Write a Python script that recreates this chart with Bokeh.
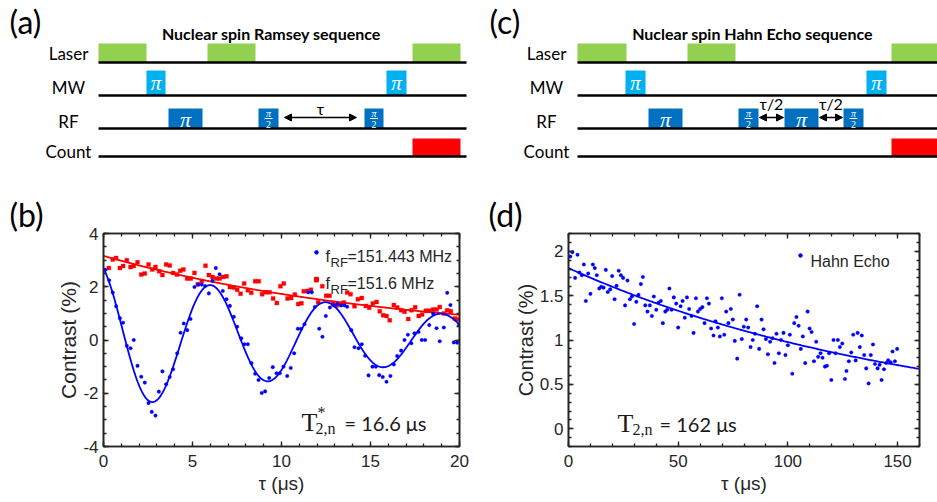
import numpy as np
from bokeh.plotting import figure
from bokeh.layouts import column, row
from bokeh.models import Range1d, LinearAxis, Label, Arrow, NormalHead, FixedTicker
from bokeh.embed import file_html
from bokeh.resources import INLINE
from bokeh.core.properties import value

# ---------------- data: Ramsey (panel b) ----------------
ramsey_a_t = [0.11, 0.32, 0.52, 0.71, 0.92, 1.10, 1.31, 1.52, 1.70, 1.91, 2.12, 2.32, 2.53, 2.71, 2.92,
              3.11, 3.31, 3.52, 3.72, 3.91, 4.14, 4.33, 4.51, 4.70, 4.89, 5.11, 5.32, 5.52, 5.71, 5.92,
              6.12, 6.31, 6.52, 6.70, 6.91, 7.10, 7.32, 7.51, 7.74, 7.92, 8.11, 8.31, 8.52, 8.71, 8.89,
              9.08, 9.31, 9.51, 9.72, 9.90, 10.11, 10.32, 10.52, 10.71, 10.92, 11.10, 11.29, 11.50, 11.70, 11.87,
              12.12, 12.30, 12.49, 12.72, 12.94, 13.13, 13.35, 13.54, 13.69, 13.92, 14.10, 14.33, 14.51, 14.70, 14.89,
              15.11, 15.30, 15.49, 15.69, 15.90, 16.12, 16.31, 16.50, 16.72, 16.91, 17.10, 17.29, 17.47, 17.70, 17.88,
              18.07, 18.30, 18.52, 18.71, 18.89, 19.12, 19.31, 19.49, 19.68, 19.87, 19.98]
ramsey_a_c = [2.64, 2.24, 1.78, 1.27, 0.82, 0.65, -0.22, -0.31, 0.00, -0.97, -1.38, -1.60, -2.37, -2.70, -2.84,
              -1.94, -1.18, -1.66, -1.39, -1.10, -0.50, 0.27, 0.62, 0.37, 0.79, 1.99, 2.08, 2.08, 2.03, 1.75,
              2.22, 2.70, 2.47, 1.84, 1.53, 1.28, 0.87, 0.50, 0.06, -0.16, -0.16, -0.87, -1.27, -1.50, -1.99,
              -1.93, -1.43, -1.02, -1.25, -1.25, -1.00, -1.35, -1.05, -0.50, 0.42, 0.42, 0.59, 1.79, 1.79, 1.24,
              0.42, 0.12, 0.90, 1.22, 1.30, 1.35, 1.30, 1.30, 1.25, 0.37, -0.27, -0.31, -0.16, -0.59, -1.33,
              -1.00, -1.00, -1.32, -1.39, -1.57, -1.35, -0.92, -0.60, -0.40, 0.00, 0.20, -0.12, 0.25, 0.30, 0.00,
              0.00, 0.56, 0.99, 0.44, -0.05, 0.47, 1.77, 1.31, -0.09, -0.10, 0.55]
ramsey_b_t = [0.30, 0.52, 0.71, 0.92, 1.10, 1.31, 1.52, 1.70, 1.91, 2.12, 2.32, 2.53, 2.74, 2.92, 3.13,
              3.31, 3.52, 3.72, 3.91, 4.12, 4.31, 4.49, 4.70, 4.90, 5.11, 5.30, 5.52, 5.73, 5.92, 6.12,
              6.33, 6.52, 6.72, 6.91, 7.10, 7.32, 7.51, 7.70, 7.90, 8.11, 8.30, 8.52, 8.72, 8.91, 9.12,
              9.33, 9.53, 9.74, 9.94, 10.13, 10.34, 10.54, 10.75, 10.94, 11.12, 11.25, 11.46, 11.65, 11.95, 12.06,
              12.29, 12.51, 12.70, 12.90, 13.09, 13.31, 13.50, 13.69, 13.88, 14.10, 14.29, 14.51, 14.74, 14.93, 15.13,
              15.34, 15.52, 15.71, 15.90, 16.08, 16.31, 16.50, 16.72, 16.91, 17.12, 17.30, 17.51, 17.71, 17.90, 18.11,
              18.30, 18.52, 18.71, 18.89, 19.12, 19.31, 19.51, 19.74, 19.90]
ramsey_b_c = [2.70, 3.02, 3.08, 2.70, 2.78, 3.00, 2.74, 2.78, 2.92, 2.46, 2.50, 2.84, 2.65, 2.74, 2.58,
              2.44, 2.84, 2.80, 2.52, 2.46, 2.60, 2.65, 2.31, 2.31, 2.52, 2.09, 2.22, 2.79, 2.44, 2.37,
              2.31, 2.31, 2.37, 2.39, 1.99, 1.97, 1.89, 1.74, 2.12, 1.87, 1.77, 2.21, 2.21, 1.72, 1.79,
              1.79, 1.56, 1.39, 2.02, 2.12, 1.56, 1.58, 1.71, 1.35, 1.38, 1.83, 1.84, 1.89, 2.24, 1.42,
              2.02, 1.66, 1.66, 1.35, 1.30, 1.33, 1.41, 1.78, 1.72, 1.27, 1.53, 1.58, 1.28, 1.21, 1.37,
              1.43, 1.08, 0.93, 0.90, 0.74, 1.31, 1.22, 1.12, 1.06, 0.79, 1.12, 1.23, 0.90, 0.96, 1.10,
              1.10, 1.15, 1.15, 1.24, 1.00, 1.12, 1.08, 0.81, 0.77]
# fit parameters (damped cosine / exponential decay)
ramsey_a_offset = 0.08
ramsey_a_amp = 2.85
ramsey_a_T2 = 16.6
ramsey_a_period = 6.48
ramsey_a_phase = 0.417
ramsey_b_amp = 3.16
ramsey_b_T = 16.6

# ---------------- data: Hahn echo (panel d) ----------------
hahn_t = [0.8, 1.8, 3.0, 4.1, 5.0, 6.1, 7.0, 7.9, 9.0, 10.0,
          11.1, 12.0, 12.9, 14.0, 14.9, 16.0, 17.0, 17.9, 19.0, 19.9,
          21.0, 21.9, 22.9, 23.9, 24.9, 25.8, 26.9, 28.0, 28.9, 29.9,
          30.9, 31.9, 33.0, 33.9, 35.0, 36.0, 37.1, 38.0, 38.9, 40.0,
          41.0, 42.1, 43.0, 44.1, 45.0, 46.0, 47.0, 48.0, 49.1, 50.0,
          51.1, 52.0, 53.0, 54.0, 55.0, 56.1, 57.0, 58.1, 59.0, 60.0,
          61.0, 62.0, 63.1, 64.0, 65.0, 66.1, 67.0, 68.1, 69.0, 69.9,
          71.0, 71.9, 72.9, 74.0, 74.9, 75.8, 76.9, 78.0, 79.0, 79.9,
          81.0, 81.9, 83.0, 84.0, 85.0, 86.0, 86.9, 88.0, 88.9, 90.0,
          90.9, 91.9, 93.0, 93.9, 94.8, 95.9, 96.9, 98.0, 98.9, 100.0,
          100.9, 102.0, 102.9, 103.9, 104.9, 105.9, 106.8, 107.9, 109.0, 109.9,
          110.8, 111.9, 112.9, 113.8, 114.9, 115.8, 116.9, 117.8, 118.8, 119.8,
          120.8, 121.7, 122.8, 123.7, 124.8, 126.0, 126.7, 127.8, 128.9, 129.8,
          130.9, 131.8, 132.8, 133.7, 134.8, 135.7, 136.8, 137.8, 138.8, 139.7,
          140.9, 141.8, 142.7, 143.8, 144.8, 145.7, 146.8, 147.7, 148.8, 149.8]
hahn_c = [1.94, 1.99, 1.70, 1.96, 1.76, 1.73, 1.85, 1.44, 1.75, 1.52,
          1.85, 1.81, 1.73, 1.58, 1.60, 1.59, 1.79, 1.54, 1.57, 1.72,
          1.46, 1.61, 1.78, 1.73, 1.70, 1.39, 1.67, 1.46, 1.49, 1.18,
          1.43, 1.51, 1.63, 1.71, 1.39, 1.32, 1.39, 1.27, 1.49, 1.34,
          1.42, 1.44, 1.19, 1.32, 1.34, 1.58, 1.34, 1.48, 1.41, 1.14,
          1.38, 1.44, 1.25, 1.48, 1.35, 1.27, 1.08, 1.47, 1.32, 1.35,
          1.37, 1.19, 1.47, 1.41, 1.13, 1.05, 1.21, 1.14, 1.04, 1.47,
          1.06, 1.32, 1.19, 1.35, 1.23, 0.99, 0.79, 1.51, 1.01, 1.15,
          1.23, 1.14, 0.92, 1.00, 1.07, 1.38, 0.90, 1.23, 1.12, 1.01,
          0.84, 0.98, 1.02, 0.74, 1.07, 0.85, 1.00, 1.08, 0.83, 0.94,
          1.06, 0.62, 1.19, 1.26, 1.16, 0.90, 1.04, 0.74, 1.32, 1.13,
          1.09, 0.76, 0.98, 0.81, 0.85, 0.80, 0.70, 0.71, 0.85, 0.55,
          1.00, 0.85, 1.00, 0.92, 0.96, 0.56, 0.65, 0.76, 0.86, 1.06,
          0.77, 1.08, 0.92, 1.05, 0.83, 0.68, 0.51, 0.83, 0.95, 0.73,
          0.68, 0.72, 0.55, 0.67, 0.74, 0.77, 0.75, 0.87, 0.76, 0.90]
hahn_amp = 1.81
hahn_T2 = 162.0

# ticks
b_xticks = [0, 5, 10, 15, 20]
b_yticks = [-4, -2, 0, 2, 4]
b_ytick_labels = ["-4", "-2", "0", "2", "4"]
d_xticks = [0, 50, 100, 150]
d_yticks = [0, 0.5, 1, 1.5, 2]
d_ytick_labels = ["0", "0.5", "1", "1.5", "2"]

# ---------------- pulse sequences (schematic time units) ----------------
channels = ["Laser", "MW", "RF", "Count"]
ramsey_span = [98, 466]
ramsey_laser = [[98, 146], [207, 255], [412, 460]]
ramsey_mw = [[146, 165], [386, 406]]
ramsey_rf_pi = [[168, 202]]
ramsey_rf_half = [[258, 278], [364, 383]]
ramsey_count = [[412, 460]]
ramsey_waits = [[283, 357]]
ramsey_wait_labels = ["τ"]

echo_span = [577, 937]
echo_laser = [[577, 626], [687, 735], [891, 937]]
echo_mw = [[625, 645], [866, 886]]
echo_rf_pi = [[648, 682], [784, 818]]
echo_rf_half = [[738, 758], [843, 863]]
echo_count = [[891, 937]]
echo_waits = [[758, 784], [818, 843]]
echo_wait_labels = ["τ/2", "τ/2"]

SANS = "Liberation Sans"
UI = "Lato"
SERIF = "Liberation Serif"
AX = "#262626"

ROW_Y = [62, 95, 128, 156]
TOPS = {"Laser": 43, "MW": 70, "RF": 108, "Count": 138}
TOP_H = 190
BOT_H = 312


def diagram(xr, title, title_x, label_x, span, laser, mw, rf_pi, rf_half, count, waits, wait_labels,
            wait_label_y, panel, panel_x):
    p = figure(width=xr[1] - xr[0], height=TOP_H, x_range=Range1d(*xr), y_range=Range1d(TOP_H, 0),
               output_backend="svg", toolbar_location=None, min_border=0,
               x_axis_location=None, y_axis_location=None, outline_line_color=None)
    p.grid.visible = False

    def blocks(lst, top, bottom, color):
        p.quad(left=[a for a, b in lst], right=[b for a, b in lst], top=[top] * len(lst),
               bottom=[bottom] * len(lst), fill_color=color, line_color=None)
    blocks(laser, TOPS["Laser"], ROW_Y[0], "#92D050")
    blocks(mw, TOPS["MW"], ROW_Y[1], "#00B0F0")
    blocks(rf_pi, TOPS["RF"], ROW_Y[2], "#0070C0")
    blocks(rf_half, TOPS["RF"], ROW_Y[2], "#0070C0")
    blocks(count, TOPS["Count"], ROW_Y[3], "#FF0000")
    # channel lines
    p.segment(x0=[span[0]] * 4, x1=[span[1]] * 4, y0=ROW_Y, y1=ROW_Y, line_width=2.6, line_color="black")
    # pi labels
    mw_c = [(a + b) / 2 for a, b in mw]
    p.text(x=mw_c, y=[(TOPS["MW"] + ROW_Y[1]) / 2] * len(mw_c), text=["π"] * len(mw_c),
           text_font=value(SERIF), text_font_style="italic", text_font_size="21px", text_color="white",
           text_align="center", text_baseline="middle")
    pi_c = [(a + b) / 2 for a, b in rf_pi]
    p.text(x=pi_c, y=[(TOPS["RF"] + ROW_Y[2]) / 2 + 1] * len(pi_c), text=["π"] * len(pi_c),
           text_font=value(SERIF), text_font_style="italic", text_font_size="22px", text_color="white",
           text_align="center", text_baseline="middle")
    h_c = [(a + b) / 2 for a, b in rf_half]
    p.text(x=h_c, y=[TOPS["RF"] + 5] * len(h_c), text=["π"] * len(h_c),
           text_font=value(SERIF), text_font_style="italic", text_font_size="10px", text_color="white",
           text_align="center", text_baseline="middle")
    p.segment(x0=[c - 4 for c in h_c], x1=[c + 4 for c in h_c], y0=[TOPS["RF"] + 10] * len(h_c),
              y1=[TOPS["RF"] + 10] * len(h_c), line_color="white", line_width=1)
    p.text(x=h_c, y=[TOPS["RF"] + 15.5] * len(h_c), text=["2"] * len(h_c),
           text_font=value(SERIF), text_font_size="10px", text_color="white",
           text_align="center", text_baseline="middle")
    # waiting arrows
    for (a, b) in waits:
        p.add_layout(Arrow(x_start=a + 1, x_end=b - 1, y_start=117, y_end=117, line_width=1.5,
                           start=NormalHead(size=7, fill_color="black", line_color="black"),
                           end=NormalHead(size=7, fill_color="black", line_color="black")))
    p.text(x=[(a + b) / 2 for a, b in waits], y=[wait_label_y] * len(waits), text=wait_labels,
           text_font=value(UI), text_font_size="16px", text_color="black",
           text_align="center", text_baseline="middle")
    # channel names
    p.text(x=[label_x] * 4, y=[53, 87, 121, 151], text=channels, text_font=value(UI),
           text_font_size="17px", text_color="black", text_align="center", text_baseline="middle")
    # title
    p.text(x=[title_x], y=[33], text=[title], text_font=value(UI), text_font_style="bold",
           text_font_size="16px", text_color="black", text_align="center", text_baseline="alphabetic")
    p.text(x=[panel_x], y=[21], text=[panel], text_font=value(UI), text_font_size="32px",
           text_color="black", text_align="left", text_baseline="middle")
    return p


pa = diagram((0, 470), "Nuclear spin Ramsey sequence", 271, 68, ramsey_span, ramsey_laser, ramsey_mw,
             ramsey_rf_pi, ramsey_rf_half, ramsey_count, ramsey_waits, ramsey_wait_labels, 108, "(a)", 9)
pc = diagram((470, 937), "Nuclear spin Hahn Echo sequence", 752, 546, echo_span, echo_laser, echo_mw,
             echo_rf_pi, echo_rf_half, echo_count, echo_waits, echo_wait_labels, 103, "(c)", 489)


def data_panel(total_w, xr, yr, left, fw, top, fh, xticks, xminor, yticks, yminor, ylabels, ylab_size,
               panel, panel_x):
    bottom = BOT_H - top - fh
    right = total_w - left - fw
    p = figure(width=total_w, height=BOT_H, x_range=Range1d(*xr), y_range=Range1d(*yr),
               output_backend="svg", toolbar_location=None, title=panel,
               min_border_left=left, min_border_right=right, min_border_top=top, min_border_bottom=bottom)
    p.title.text_font = UI
    p.title.text_font_size = "32px"
    p.title.text_font_style = "normal"
    p.title.text_color = "black"
    p.title.align = "left"
    p.title.offset = panel_x - left
    p.title.standoff = 0
    p.grid.visible = False
    p.outline_line_color = AX
    p.outline_line_width = 1.6
    xa = p.below[0]
    ya = p.left[0]
    xa.ticker = FixedTicker(ticks=xticks, minor_ticks=xminor)
    ya.ticker = FixedTicker(ticks=yticks, minor_ticks=yminor)
    ya.major_label_overrides = {t: s for t, s in zip(yticks, ylabels)}
    ra = LinearAxis(ticker=FixedTicker(ticks=yticks, minor_ticks=yminor),
                    major_label_overrides={t: "" for t in yticks})
    ta = LinearAxis(ticker=FixedTicker(ticks=xticks, minor_ticks=xminor),
                    major_label_overrides={t: "" for t in xticks})
    p.add_layout(ra, "right")
    p.add_layout(ta, "above")
    for ax in (xa, ya, ra, ta):
        ax.axis_line_color = AX
        ax.axis_line_width = 1.6
        ax.major_tick_in = 5
        ax.major_tick_out = 0
        ax.minor_tick_in = 3
        ax.minor_tick_out = 0
        ax.major_tick_line_color = AX
        ax.minor_tick_line_color = AX
        ax.major_tick_line_width = 1.3
        ax.minor_tick_line_width = 1.3
        ax.major_label_text_font = SANS
        ax.major_label_text_font_size = "17px"
        ax.major_label_text_color = AX
        ax.axis_label_text_font = SANS
        ax.axis_label_text_font_style = "normal"
        ax.axis_label_text_color = AX
    for ax in (ra, ta):
        ax.major_label_standoff = 0
        ax.major_label_text_font_size = "2px"
    xa.axis_label = "τ (μs)"
    xa.axis_label_text_font_size = "19px"
    xa.major_label_standoff = 8
    xa.axis_label_standoff = 3
    ya.axis_label = "Contrast (%)"
    ya.axis_label_text_font_size = ylab_size
    ya.major_label_standoff = 5
    ya.axis_label_standoff = 0
    return p


def mapper(x0, w, xr, y0, h, yr):
    def fx(px):
        return xr[0] + (px - x0) / w * (xr[1] - xr[0])

    def fy(py):
        return yr[1] - (py - y0) / h * (yr[1] - yr[0])
    return fx, fy


# ---------------- panel (b) ----------------
b_xr, b_yr = (0, 20), (-4, 4)
pb = data_panel(470, b_xr, b_yr, 103, 356, 43, 214, b_xticks, list(np.arange(0, 20.01, 1.0)), b_yticks,
                list(np.arange(-4, 4.01, 0.5)), b_ytick_labels, "21px", "(b)", 9)
bx, by = mapper(103, 356, b_xr, 233, 214, b_yr)

tt = np.linspace(0, 20, 500)
fit_a = ramsey_a_offset + ramsey_a_amp * np.exp(-tt / ramsey_a_T2) * np.cos(2 * np.pi * tt / ramsey_a_period + ramsey_a_phase)
fit_b = ramsey_b_amp * np.exp(-tt / ramsey_b_T)
pb.scatter(ramsey_b_t, ramsey_b_c, marker="square", size=4, fill_color="#FF0000", line_color="#FF0000", line_width=0.3)
pb.line(tt, fit_b, line_color="#FF0000", line_width=1.8)
pb.scatter(ramsey_a_t, ramsey_a_c, marker="circle", size=3.6, fill_color="#0000FF", line_color="#0000FF", line_width=0.3)
pb.line(tt, fit_a, line_color="#0000FF", line_width=1.8)

# legend (b)
pb.scatter([bx(316)], [by(252)], marker="circle", size=3.6, color="#0000FF")
pb.scatter([bx(316)], [by(279)], marker="square", size=4, color="#FF0000")
for yy, txt in ((256, "=151.443 MHz"), (283, "=151.6 MHz")):
    pb.add_layout(Label(x=bx(325), y=by(yy), text="f", text_font=SANS, text_font_size="16px",
                        text_color=AX, text_baseline="alphabetic"))
    pb.add_layout(Label(x=bx(330), y=by(yy + 6), text="RF", text_font=SANS, text_font_size="13px",
                        text_color=AX, text_baseline="alphabetic"))
    pb.add_layout(Label(x=bx(347), y=by(yy), text=txt, text_font=SANS, text_font_size="16px",
                        text_color=AX, text_baseline="alphabetic"))
# T2* annotation
pb.add_layout(Label(x=bx(301), y=by(423), text="T", text_font=SERIF, text_font_size="26px",
                    text_color="#1a1a1a", text_baseline="alphabetic"))
pb.add_layout(Label(x=bx(317), y=by(413), text="*", text_font=SERIF, text_font_size="16px",
                    text_color="#1a1a1a", text_baseline="alphabetic"))
pb.add_layout(Label(x=bx(315), y=by(429), text="2,n", text_font=SERIF, text_font_size="16px",
                    text_color="#1a1a1a", text_baseline="alphabetic"))
pb.add_layout(Label(x=bx(344), y=by(423), text="= 16.6 μs", text_font=UI, text_font_size="20px",
                    text_color="#1a1a1a", text_baseline="alphabetic"))

# ---------------- panel (d) ----------------
d_xr, d_yr = (0, 160), (-0.2, 2.2)
pd_ = data_panel(467, d_xr, d_yr, 98, 351, 43, 213, d_xticks, list(np.arange(0, 160.01, 10.0)), d_yticks,
                 list(np.arange(-0.2, 2.21, 0.1)), d_ytick_labels, "20px", "(d)", 18)
dx, dy = mapper(568, 351, d_xr, 233, 213, d_yr)
th = np.linspace(0, 160, 300)
fit_h = hahn_amp * np.exp(-th / hahn_T2)
pd_.scatter(hahn_t, hahn_c, marker="circle", size=3.6, fill_color="#0000FF", line_color="#0000FF", line_width=0.3)
pd_.line(th, fit_h, line_color="#0000FF", line_width=1.8)
pd_.scatter([dx(800)], [dy(255)], marker="circle", size=3.6, color="#0000FF")
pd_.add_layout(Label(x=dx(810), y=dy(261), text="Hahn Echo", text_font=SANS, text_font_size="16px",
                     text_color=AX, text_baseline="alphabetic"))
pd_.add_layout(Label(x=dx(617), y=dy(423), text="T", text_font=SERIF, text_font_size="26px",
                     text_color="#1a1a1a", text_baseline="alphabetic"))
pd_.add_layout(Label(x=dx(632), y=dy(429), text="2,n", text_font=SERIF, text_font_size="16px",
                     text_color="#1a1a1a", text_baseline="alphabetic"))
pd_.add_layout(Label(x=dx(659), y=dy(423), text="= 162 μs", text_font=UI, text_font_size="20px",
                     text_color="#1a1a1a", text_baseline="alphabetic"))

layout = column(row(pa, pc), row(pb, pd_))
open("out.html", "w").write(file_html(layout, INLINE, title="Nuclear spin sequences"))
